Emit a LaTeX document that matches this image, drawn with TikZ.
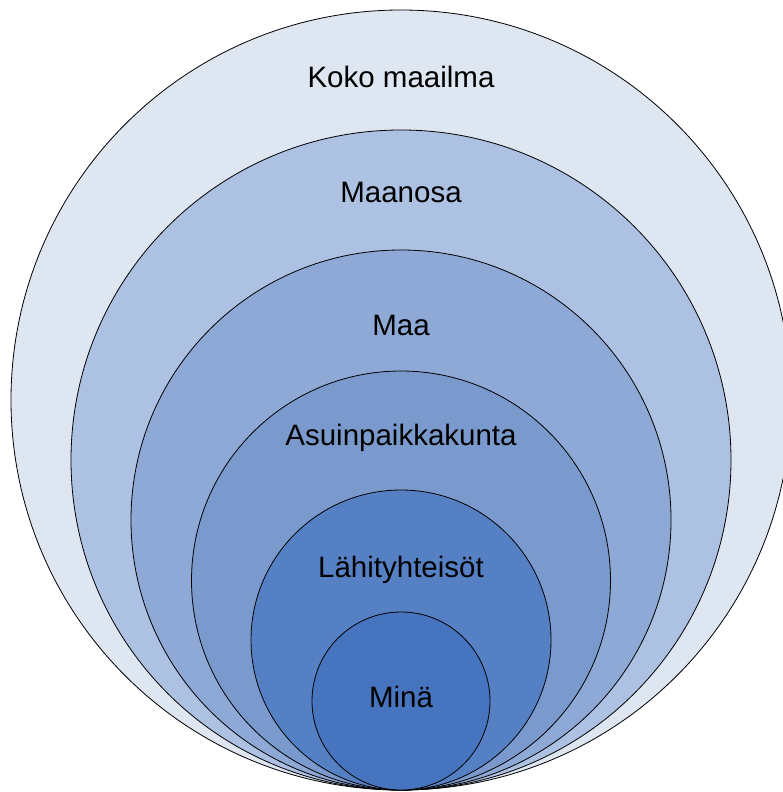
\documentclass[tikz,border=0pt]{standalone}
\usepackage{fontspec}
\setmainfont{Liberation Sans}
\definecolor{c1}{HTML}{DEE6F2}
\definecolor{c2}{HTML}{ADC1E3}
\definecolor{c3}{HTML}{8EA9D6}
\definecolor{c4}{HTML}{7A9ACD}
\definecolor{c5}{HTML}{5581C4}
\definecolor{c6}{HTML}{4674BE}
\begin{document}
\begin{tikzpicture}[x=1pt,y=-1pt,
  ring/.style={draw=black,line width=0.8pt},
  lbl/.style={font=\fontsize{29.5}{34}\selectfont,text=black,inner sep=0pt}]
\useasboundingbox (0,0) rectangle (783,792);
\fill[white] (0,0) rectangle (783,792);
\draw[ring,fill=c1] (401,400) circle[radius=390];
\draw[ring,fill=c2] (401,460) circle[radius=330];
\draw[ring,fill=c3] (401,520) circle[radius=270];
\draw[ring,fill=c4] (401,580.5) circle[radius=209.5];
\draw[ring,fill=c5] (401,640) circle[radius=150];
\draw[ring,fill=c6] (401,701) circle[radius=89];
\node[lbl] (k1) at (401,77) {Koko maailma};
\node[lbl] (k2) at (401,192) {Maanosa};
\node[lbl] (k3) at (401,325) {Maa};
\node[lbl] (k4) at (401,438) {Asuinpaikkakunta};
\node[lbl] (k5) at (401,570) {Lähityhteisöt};
\node[lbl] (k6) at (401,697) {Minä};
\end{tikzpicture}
\end{document}
